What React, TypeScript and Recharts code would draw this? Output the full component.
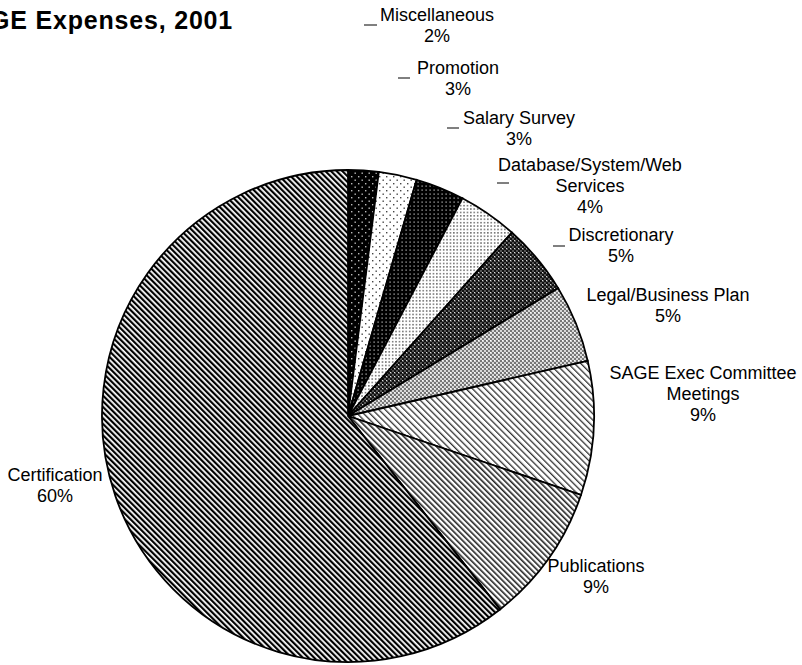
import React from 'react';
import { PieChart, Pie, Cell } from 'recharts';

const categories = [
  'Miscellaneous', 'Promotion', 'Salary Survey', 'Database/System/Web Services',
  'Discretionary', 'Legal/Business Plan', 'SAGE Exec Committee Meetings', 'Publications', 'Certification',
];
const shares = [2.0, 2.5, 3.2, 3.9, 4.7, 5.1, 8.8, 9.2, 60.6];
const pctLabels = ['2%', '3%', '3%', '4%', '5%', '5%', '9%', '9%', '60%'];
const labelLines = [
  ['Miscellaneous'], ['Promotion'], ['Salary Survey'], ['Database/System/Web', 'Services'],
  ['Discretionary'], ['Legal/Business Plan'], ['SAGE Exec Committee', 'Meetings'], ['Publications'], ['Certification'],
];
const fills = ['misc', 'promo', 'salary', 'db', 'disc', 'legal', 'sage', 'pub', 'cert'];

// text layout (centre x, first line y) and the little excel leader dashes
const labelAt: [number, number][] = [
  [437, 15], [458, 68], [519, 118], [590, 165], [621, 235], [668, 295], [703, 373], [596, 566], [55, 475],
];
const leaders: ([number, number, number] | null)[] = [
  [364, 377, 25], [398, 410, 78], [447, 459, 128], [497, 509, 183], [553, 565, 246], null, null, null, null,
];

const data = categories.map((name, i) => ({ name, value: shares[i] }));

const LINE_H = 21;

function SliceLabel(props: any) {
  const i = props.index;
  const [x, y] = labelAt[i];
  const lines = [...labelLines[i], pctLabels[i]];
  const ld = leaders[i];
  return (
    <g>
      {ld && <line x1={ld[0]} x2={ld[1]} y1={ld[2]} y2={ld[2]} stroke="#000" strokeWidth={1} />}
      <text x={x} y={y} textAnchor="middle" dominantBaseline="central" fontSize={18} fill="#000"
        fontFamily="'Liberation Sans', Arial, sans-serif">
        {lines.map((t, k) => (
          <tspan key={k} x={x} dy={k === 0 ? 0 : LINE_H}>{t}</tspan>
        ))}
      </text>
    </g>
  );
}

export default function App() {
  return (
    <div style={{ position: 'absolute', left: 0, top: 0, width: 802, height: 665, background: '#fff', overflow: 'hidden' }}>
      <PieChart width={802} height={665} margin={{ top: 0, right: 0, bottom: 0, left: 0 }}>
        <defs>
          <pattern id="cert" width="4" height="4" patternUnits="userSpaceOnUse" patternTransform="rotate(-45)">
            <rect width="4" height="4" fill="#fff" />
            <rect width="2.2" height="4" fill="#000" />
          </pattern>
          <pattern id="pub" width="4" height="4" patternUnits="userSpaceOnUse" patternTransform="rotate(-45)">
            <rect width="4" height="4" fill="#fff" />
            <rect width="1.6" height="4" fill="#222" />
          </pattern>
          <pattern id="sage" width="4.5" height="4.5" patternUnits="userSpaceOnUse" patternTransform="rotate(-45)">
            <rect width="4.5" height="4.5" fill="#fff" />
            <rect width="1.3" height="4.5" fill="#333" />
          </pattern>
          <pattern id="legal" width="4" height="4" patternUnits="userSpaceOnUse">
            <rect width="4" height="4" fill="#d8d8d8" />
            <rect x="0" y="0" width="2" height="2" fill="#777" />
            <rect x="2" y="2" width="2" height="2" fill="#777" />
            <rect x="2" y="0" width="1" height="1" fill="#fff" />
          </pattern>
          <pattern id="disc" width="4" height="4" patternUnits="userSpaceOnUse">
            <rect width="4" height="4" fill="#555" />
            <rect x="0" y="0" width="2" height="2" fill="#111" />
            <rect x="2" y="2" width="2" height="2" fill="#111" />
            <rect x="2" y="0" width="1" height="1" fill="#ddd" />
          </pattern>
          <pattern id="db" width="3.4" height="3.4" patternUnits="userSpaceOnUse">
            <rect width="3.4" height="3.4" fill="#fff" />
            <rect x="1" y="1" width="1.3" height="1.3" fill="#333" />
          </pattern>
          <pattern id="salary" width="4" height="4" patternUnits="userSpaceOnUse">
            <rect width="4" height="4" fill="#000" />
            <rect x="1.5" y="1.5" width="1.2" height="1.2" fill="#ccc" />
          </pattern>
          <pattern id="promo" width="7" height="7" patternUnits="userSpaceOnUse">
            <rect width="7" height="7" fill="#fff" />
            <rect x="1" y="1" width="1.4" height="1.4" fill="#444" />
            <rect x="4.5" y="4.5" width="1.4" height="1.4" fill="#444" />
          </pattern>
          <pattern id="misc" width="7" height="7" patternUnits="userSpaceOnUse">
            <rect width="7" height="7" fill="#000" />
            <rect x="1" y="1" width="1.4" height="1.4" fill="#bbb" />
            <rect x="4.5" y="4.5" width="1.4" height="1.4" fill="#bbb" />
          </pattern>
        </defs>
        <text x={233} y={29} textAnchor="end" fontSize={25} fontWeight="bold" fill="#000" letterSpacing={0.8}
          fontFamily="'Liberation Sans', Arial, sans-serif">SAGE Expenses, 2001</text>
        <Pie data={data} dataKey="value" nameKey="name" cx={348} cy={416} outerRadius={246}
          startAngle={90} endAngle={-270} stroke="#000" strokeWidth={1.8}
          label={SliceLabel} labelLine={false} isAnimationActive={false}>
          {data.map((d, i) => (
            <Cell key={d.name} fill={`url(#${fills[i]})`} />
          ))}
        </Pie>
      </PieChart>
    </div>
  );
}
